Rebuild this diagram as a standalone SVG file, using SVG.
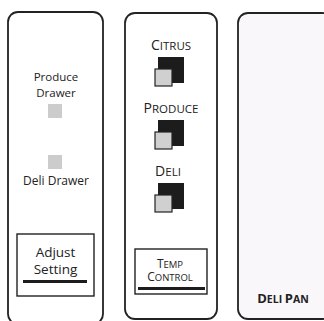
<svg xmlns="http://www.w3.org/2000/svg" width="324" height="321" viewBox="0 0 324 321">
<style>
.panel{fill:#ffffff;stroke:#222;stroke-width:1.8}
.t{font-family:"Open Sans","DejaVu Sans",sans-serif;fill:#222;text-anchor:middle}
.led{fill:#cccccc}
.dk{fill:#1c1c1c}
.lt{fill:#d0d0d0;stroke:#222;stroke-width:1.2}
.btn{fill:#fff;stroke:#222;stroke-width:1.4}
.bar{fill:#1c1c1c}
</style>
<rect width="324" height="321" fill="#ffffff"/>
<g id="panel-left">
<rect class="panel" x="8" y="12" width="95" height="312" rx="10"/>
<text class="t" x="56" y="81" font-size="11.5">Produce</text>
<text class="t" x="56" y="97" font-size="11.5">Drawer</text>
<rect class="led" x="48" y="104" width="14" height="14"/>
<rect class="led" x="48" y="155" width="14" height="14"/>
<text class="t" x="56" y="185" font-size="12">Deli Drawer</text>
</g>
<g id="adjust-setting">
<rect class="btn" x="17" y="234" width="77" height="62"/>
<text class="t" x="55.5" y="257" font-size="13.5">Adjust</text>
<text class="t" x="55.5" y="274" font-size="13.5">Setting</text>
<rect class="bar" x="23" y="280" width="64" height="3"/>
</g>
<g id="panel-middle">
<rect class="panel" x="125" y="13" width="92" height="306" rx="10"/>
</g>
<g id="citrus">
<text class="t" x="171" y="50" font-size="14"><tspan>C</tspan><tspan font-size="11.5">ITRUS</tspan></text>
<rect class="dk" x="158" y="57" width="26" height="26"/>
<rect class="lt" x="155" y="69" width="17" height="17"/>
</g>
<g id="produce">
<text class="t" x="171" y="113" font-size="14"><tspan>P</tspan><tspan font-size="11.5">RODUCE</tspan></text>
<rect class="dk" x="158" y="120" width="26" height="26"/>
<rect class="lt" x="155" y="132" width="17" height="17"/>
</g>
<g id="deli">
<text class="t" x="168" y="176" font-size="14"><tspan>D</tspan><tspan font-size="11.5">ELI</tspan></text>
<rect class="dk" x="158" y="183" width="26" height="26"/>
<rect class="lt" x="155" y="195" width="17" height="17"/>
</g>
<g id="temp-control">
<rect class="btn" x="135" y="249" width="72" height="45"/>
<text class="t" x="170" y="268" font-size="12"><tspan>T</tspan><tspan font-size="9.5">EMP</tspan></text>
<text class="t" x="170" y="281" font-size="12"><tspan>C</tspan><tspan font-size="9.5">ONTROL</tspan></text>
<rect class="bar" x="138" y="287" width="67" height="3"/>
</g>
<g id="panel-right">
<rect class="panel" x="238" y="13" width="94" height="306" rx="10" style="fill:#f9f7fa"/>
<text class="t" x="283" y="303" font-size="13" font-weight="bold"><tspan>D</tspan><tspan font-size="10.5">ELI </tspan><tspan>P</tspan><tspan font-size="10.5">AN</tspan></text>
</g>
</svg>
